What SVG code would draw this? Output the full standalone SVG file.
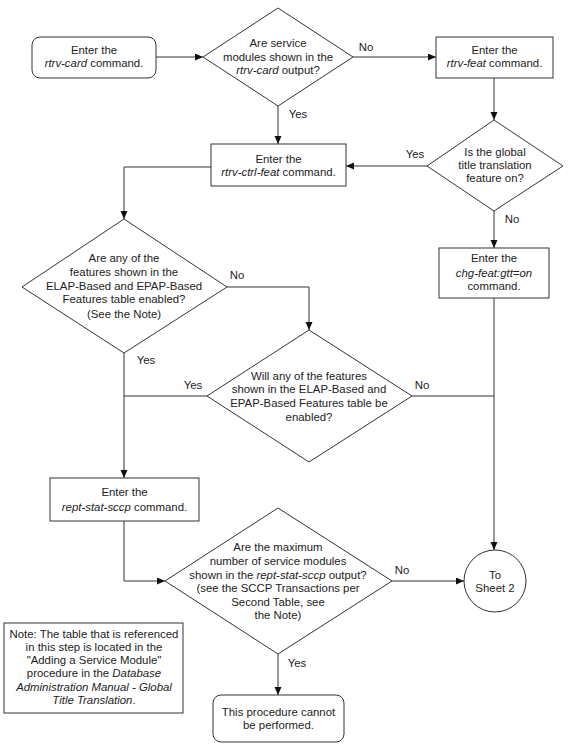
<svg xmlns="http://www.w3.org/2000/svg" width="571" height="749" viewBox="0 0 571 749">
<style>
.s{fill:#fff;stroke:#333;stroke-width:1}
.t{font-family:"Liberation Sans",Arial,sans-serif;font-size:11.4px;fill:#222;text-anchor:middle}
.i{font-style:italic}
.c{fill:none;stroke:#333;stroke-width:1}
.a{marker-end:url(#ah)}
</style>
<defs>
<marker id="ah" markerUnits="userSpaceOnUse" markerWidth="9" markerHeight="8" refX="8" refY="3.5" orient="auto">
<path d="M0,0 L8,3.5 L0,7 z" fill="#111"/>
</marker>
</defs>
<rect width="571" height="749" fill="#fff"/>
<g id="connectors">
<path class="c a" d="M156,57 H203"/>
<path class="c a" d="M353,57 H436"/>
<path class="c a" d="M278,106 V144"/>
<path class="c a" d="M494,78 V120"/>
<path class="c a" d="M427,166 H346"/>
<path class="c a" d="M494,211 V248"/>
<path class="c a" d="M211,167 H124 V219"/>
<path class="c a" d="M227,287 H309 V330"/>
<path class="c a" d="M124,353 V478"/>
<path class="c" d="M207,396 H124"/>
<path class="c" d="M412,396 H494"/>
<path class="c a" d="M494,298 V550"/>
<path class="c a" d="M124,521 V581 H165"/>
<path class="c a" d="M392,581 H464"/>
<path class="c a" d="M278,654 V695"/>
<text class="t" x="366" y="51">No</text>
<text class="t" x="298" y="118">Yes</text>
<text class="t" x="415" y="158">Yes</text>
<text class="t" x="512" y="223">No</text>
<text class="t" x="237" y="279">No</text>
<text class="t" x="146" y="364">Yes</text>
<text class="t" x="193" y="389">Yes</text>
<text class="t" x="422" y="389">No</text>
<text class="t" x="402" y="574">No</text>
<text class="t" x="297" y="667">Yes</text>
</g>
<g id="n-rtrv-card">
<rect class="s" x="32" y="37" width="124" height="41" rx="8"/>
<text class="t" x="94" y="54">Enter the</text>
<text class="t" x="94" y="67"><tspan class="i">rtrv-card</tspan> command.</text>
</g>
<g id="n-d1">
<polygon class="s" points="278,8 353,57 278,106 203,57"/>
<text class="t" x="278" y="47">Are service</text>
<text class="t" x="278" y="61">modules shown in the</text>
<text class="t" x="278" y="74"><tspan class="i">rtrv-card</tspan> output?</text>
</g>
<g id="n-rtrv-feat">
<rect class="s" x="436" y="37" width="117" height="41"/>
<text class="t" x="494.5" y="54">Enter the</text>
<text class="t" x="494.5" y="67"><tspan class="i">rtrv-feat</tspan> command.</text>
</g>
<g id="n-d2">
<polygon class="s" points="494,120 563,166 494,211 427,166"/>
<text class="t" x="495" y="156">Is the global</text>
<text class="t" x="495" y="169">title translation</text>
<text class="t" x="495" y="182">feature on?</text>
</g>
<g id="n-rtrv-ctrl-feat">
<rect class="s" x="211" y="144" width="135" height="42"/>
<text class="t" x="278.5" y="163">Enter the</text>
<text class="t" x="278.5" y="176"><tspan class="i">rtrv-ctrl-feat</tspan> command.</text>
</g>
<g id="n-chg-feat">
<rect class="s" x="439" y="248" width="110" height="50"/>
<text class="t" x="494" y="262">Enter the</text>
<text class="t" x="494" y="277"><tspan class="i">chg-feat:gtt=on</tspan></text>
<text class="t" x="494" y="290">command.</text>
</g>
<g id="n-d3">
<polygon class="s" points="124,219 227,287 124,353 22,287"/>
<text class="t" x="124" y="262">Are any of the</text>
<text class="t" x="124" y="276">features shown in the</text>
<text class="t" x="124" y="290">ELAP-Based and EPAP-Based</text>
<text class="t" x="124" y="303">Features table enabled?</text>
<text class="t" x="124" y="318">(See the Note)</text>
</g>
<g id="n-d4">
<polygon class="s" points="309,330 412,396 309,462 207,396"/>
<text class="t" x="309" y="380">Will any of the features</text>
<text class="t" x="309" y="393">shown in the ELAP-Based and</text>
<text class="t" x="309" y="407">EPAP-Based Features table be</text>
<text class="t" x="309" y="421">enabled?</text>
</g>
<g id="n-rept-stat-sccp">
<rect class="s" x="50" y="478" width="149" height="43"/>
<text class="t" x="124.5" y="496">Enter the</text>
<text class="t" x="124.5" y="511"><tspan class="i">rept-stat-sccp</tspan> command.</text>
</g>
<g id="n-d5">
<polygon class="s" points="278,508 392,581 278,654 165,581"/>
<text class="t" x="278" y="551">Are the maximum</text>
<text class="t" x="278" y="565">number of service modules</text>
<text class="t" x="278" y="579">shown in the <tspan class="i">rept-stat-sccp</tspan> output?</text>
<text class="t" x="278" y="592">(see the SCCP Transactions per</text>
<text class="t" x="278" y="606">Second Table, see</text>
<text class="t" x="278" y="619">the Note)</text>
</g>
<g id="n-sheet2">
<circle class="s" cx="495" cy="581" r="31"/>
<text class="t" x="495" y="579">To</text>
<text class="t" x="495" y="592">Sheet 2</text>
</g>
<g id="n-note">
<rect class="s" x="4" y="623" width="179" height="90"/>
<text class="t" x="94" y="638">Note: The table that is referenced</text>
<text class="t" x="94" y="651">in this step is located in the</text>
<text class="t" x="94" y="664">"Adding a Service Module"</text>
<text class="t" x="94" y="677">procedure in the <tspan class="i">Database</tspan></text>
<text class="t i" x="94" y="691">Administration Manual - Global</text>
<text class="t" x="94" y="704"><tspan class="i">Title Translation</tspan>.</text>
</g>
<g id="n-end">
<rect class="s" x="213" y="695" width="131" height="47" rx="8"/>
<text class="t" x="278.5" y="716">This procedure cannot</text>
<text class="t" x="278.5" y="729">be performed.</text>
</g>
</svg>
